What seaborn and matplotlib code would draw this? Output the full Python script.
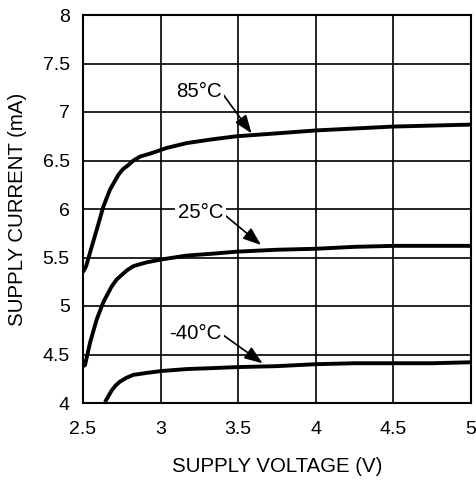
import numpy as np
import pandas as pd
import matplotlib
matplotlib.use("Agg")
import matplotlib.pyplot as plt
import seaborn as sns

# Data
v_85 = [2.50, 2.52, 2.556, 2.60, 2.63, 2.674, 2.727, 2.757, 2.79, 2.825, 2.867, 2.95, 3.04, 3.17, 3.34, 3.49, 3.75, 4.0, 4.25, 4.5, 4.75, 5.0]
i_85 = [5.35, 5.41, 5.61, 5.85, 6.02, 6.20, 6.35, 6.41, 6.45, 6.50, 6.54, 6.58, 6.63, 6.68, 6.72, 6.75, 6.78, 6.81, 6.83, 6.85, 6.86, 6.87]

v_25 = [2.50, 2.513, 2.545, 2.588, 2.631, 2.684, 2.715, 2.749, 2.785, 2.824, 2.865, 2.91, 3.006, 3.17, 3.34, 3.49, 3.75, 4.0, 4.25, 4.5, 4.75, 5.0]
i_25 = [4.38, 4.39, 4.62, 4.86, 5.04, 5.20, 5.27, 5.32, 5.37, 5.41, 5.43, 5.45, 5.48, 5.52, 5.54, 5.56, 5.58, 5.59, 5.61, 5.62, 5.62, 5.62]

v_m40 = [2.642, 2.685, 2.71, 2.738, 2.78, 2.824, 2.91, 3.006, 3.17, 3.34, 3.49, 3.75, 4.0, 4.25, 4.5, 4.75, 5.0]
i_m40 = [4.01, 4.13, 4.18, 4.22, 4.26, 4.29, 4.31, 4.33, 4.35, 4.36, 4.37, 4.38, 4.40, 4.41, 4.41, 4.41, 4.42]

temps = ["85°C", "25°C", "-40°C"]
x_ticks = [2.5, 3, 3.5, 4, 4.5, 5]
x_tick_labels = ["2.5", "3", "3.5", "4", "4.5", "5"]
y_ticks = [4, 4.5, 5, 5.5, 6, 6.5, 7, 7.5, 8]
y_tick_labels = ["4", "4.5", "5", "5.5", "6", "6.5", "7", "7.5", "8"]

# annotation label anchor (right edge of text) and arrow tips (data units)
label_xy = [(3.394, 7.21), (3.404, 5.96), (3.394, 4.72)]
arrow_xy = [(3.586, 6.78), (3.647, 5.629), (3.657, 4.409)]

df = pd.concat([
    pd.DataFrame({"V": v_85, "I": i_85, "T": temps[0]}),
    pd.DataFrame({"V": v_25, "I": i_25, "T": temps[1]}),
    pd.DataFrame({"V": v_m40, "I": i_m40, "T": temps[2]}),
])

sns.set_theme(style="white")
plt.rcParams["font.family"] = ["Liberation Sans", "DejaVu Sans"]

fig = plt.figure(figsize=(4.77, 4.8), dpi=100)
ax = fig.add_axes([83/477, 1 - 403/480, (471 - 83)/477, (403 - 15)/480])

sns.lineplot(data=df, x="V", y="I", hue="T", palette=["black"] * 3,
             linewidth=2.8, legend=False, sort=False, ax=ax, estimator=None)
for ln in ax.lines:
    ln.set_solid_joinstyle("round")
    ln.set_solid_capstyle("butt")

ax.set_xlim(2.5, 5)
ax.set_ylim(4, 8)
ax.set_xticks(x_ticks)
ax.set_xticklabels(x_tick_labels)
ax.set_yticks(y_ticks)
ax.set_yticklabels(y_tick_labels)
ax.grid(True, color="black", linewidth=1.2)
ax.set_axisbelow(True)
for s in ax.spines.values():
    s.set_color("black")
    s.set_linewidth(1.5)
ax.tick_params(axis="both", length=0, labelsize=14, colors="black")
ax.tick_params(axis="x", pad=13)
ax.tick_params(axis="y", pad=9.5)

ax.set_xlabel("SUPPLY VOLTAGE (V)", fontsize=14.7, color="black", labelpad=14)
ax.set_ylabel("SUPPLY CURRENT (mA)", fontsize=14.7, color="black", labelpad=11)

for t, (lx, ly), (tx, ty) in zip(temps, label_xy, arrow_xy):
    ax.annotate(t, xy=(tx, ty), xytext=(lx, ly), textcoords="data",
                ha="right", va="center", fontsize=14.7, color="black",
                bbox=dict(boxstyle="square,pad=0.12", fc="white", ec="none"),
                arrowprops=dict(arrowstyle="-|>,head_length=0.75,head_width=0.28",
                                color="black", lw=1.2, shrinkA=2, shrinkB=0,
                                relpos=(1.0, 0.45), patchA=None))

fig.savefig("out.png", dpi=100, facecolor="white")
